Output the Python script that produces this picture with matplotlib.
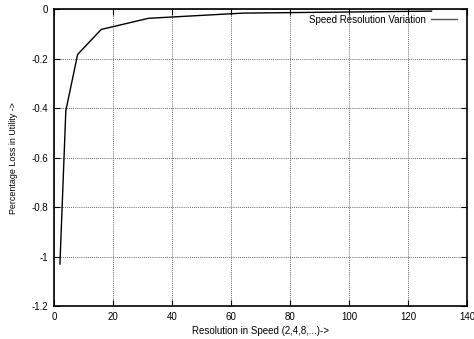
import matplotlib
matplotlib.use("Agg")
import matplotlib.pyplot as plt

plt.rcParams['font.family'] = ['Liberation Sans', 'DejaVu Sans']

resolution = [2, 4, 8, 16, 32, 64, 128]
utility_loss = [-1.03, -0.41, -0.183, -0.082, -0.037, -0.016, -0.008]
x_ticks = [0, 20, 40, 60, 80, 100, 120, 140]
y_ticks = [0, -0.2, -0.4, -0.6, -0.8, -1, -1.2]
y_tick_labels = ["0", "-0.2", "-0.4", "-0.6", "-0.8", "-1", "-1.2"]

fig = plt.figure(figsize=(4.74, 3.39), dpi=100)
ax = fig.add_axes([0.114, 0.097, 0.871, 0.876])

ax.plot(resolution, utility_loss, color='black', linewidth=1.0,
        label='Speed Resolution Variation')

ax.set_xlim(0, 140)
ax.set_ylim(-1.2, 0)
ax.set_xticks(x_ticks)
ax.set_xticklabels([str(t) for t in x_ticks])
ax.set_yticks(y_ticks)
ax.set_yticklabels(y_tick_labels)

ax.grid(True, linestyle=(0, (1, 1.5)), color='#333333', linewidth=0.6)
ax.tick_params(direction='in', top=True, right=True, labelsize=7,
               length=4, width=0.8, pad=4)
for s in ax.spines.values():
    s.set_linewidth(1.2)

ax.set_xlabel('Resolution in Speed (2,4,8,...)->', fontsize=7, labelpad=3)
ax.set_ylabel('Percentage Loss in Utility ->', fontsize=6.4, labelpad=10)

leg = ax.legend(loc='upper right', bbox_to_anchor=(0.988, 1.0), fontsize=7,
                frameon=False, markerfirst=False, handlelength=2.6,
                borderaxespad=0.15, handletextpad=0.6)
leg.get_lines()[0].set_color('#555555')

fig.savefig('out.png', dpi=100)
